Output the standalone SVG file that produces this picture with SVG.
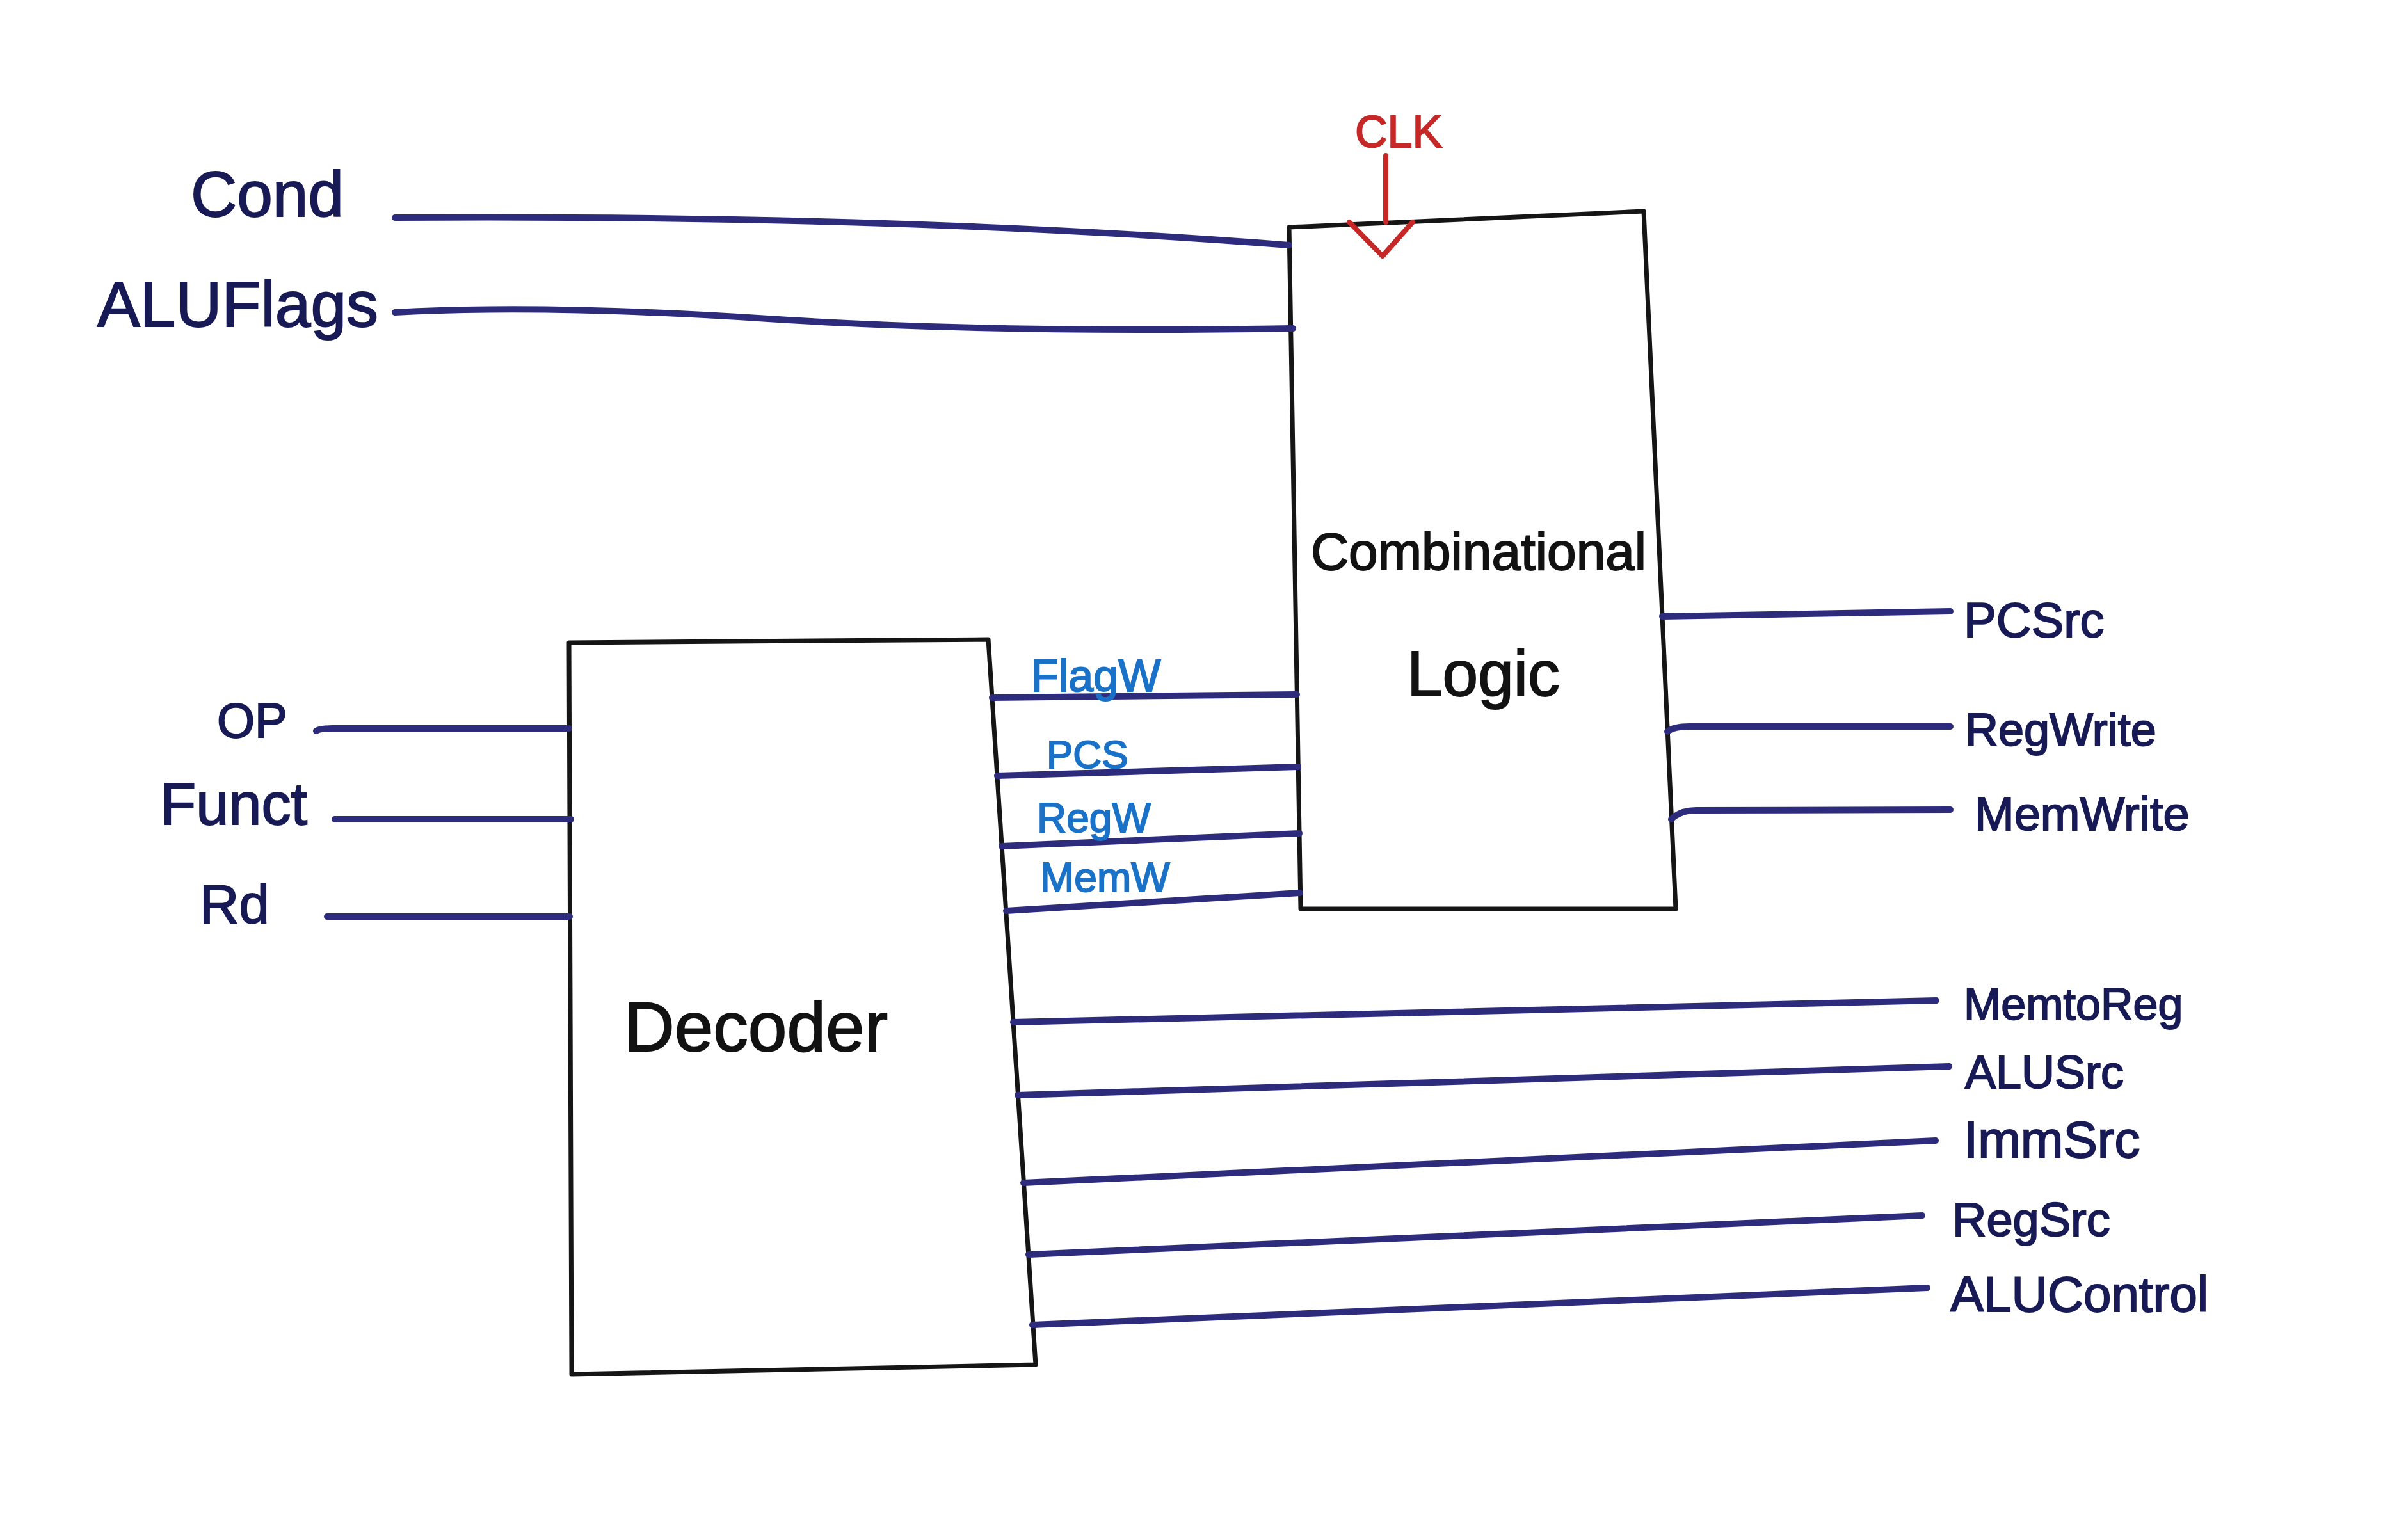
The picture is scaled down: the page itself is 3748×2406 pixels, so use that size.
<svg xmlns="http://www.w3.org/2000/svg" width="3748" height="2406" viewBox="0 0 3748 2406">
<style>
.box{fill:#fff;stroke:#151515;stroke-width:7;stroke-linejoin:round}
.wire{fill:none;stroke:#2d2c7c;stroke-width:10;stroke-linecap:round}
.lbl{font-family:"Liberation Sans",Arial,sans-serif;fill:#171a55;stroke:#171a55;stroke-width:2}
.blue{font-family:"Liberation Sans",Arial,sans-serif;fill:#1a72c8;stroke:#1a72c8;stroke-width:2}
.red{font-family:"Liberation Sans",Arial,sans-serif;fill:#c62828;stroke:#c62828;stroke-width:2}
.title{font-family:"Liberation Sans",Arial,sans-serif;fill:#121212;stroke:#121212;stroke-width:2}
</style>
<rect width="3748" height="2406" fill="#ffffff"/>
<g id="decoder">
<polygon class="box" points="889,1004 1544,999 1618,2132 893,2147"/>
<text class="title" x="975" y="1642" font-size="109">Decoder</text>
</g>
<g id="combinational-logic">
<polygon class="box" points="2014,355 2568,330 2618,1420 2032,1420"/>
<text class="title" x="2310" y="890" font-size="82" text-anchor="middle">Combinational</text>
<text class="title" x="2198" y="1087" font-size="100">Logic</text>
</g>
<g id="clk">
<text class="red" x="2117" y="230" font-size="70">CLK</text>
<line x1="2165" y1="243" x2="2165" y2="347" stroke="#c62828" stroke-width="8" stroke-linecap="round"/>
<polyline points="2108,347 2160,400 2207,347" fill="none" stroke="#c62828" stroke-width="8" stroke-linejoin="round" stroke-linecap="round"/>
</g>
<g id="connectors">
<path class="wire" d="M617,340 Q1400,335 2014,383"/>
<path class="wire" d="M617,488 Q850,475 1200,498 T2020,513"/>
<path class="wire" d="M494,1142 Q500,1138 520,1138 L889,1138"/>
<path class="wire" d="M523,1280 L892,1280"/>
<path class="wire" d="M511,1432 L890,1432"/>
<path class="wire" d="M1550,1090 L2026,1085"/>
<path class="wire" d="M1558,1212 L2028,1198"/>
<path class="wire" d="M1565,1322 L2030,1302"/>
<path class="wire" d="M1572,1423 L2031,1395"/>
<path class="wire" d="M2597,963 L3047,955"/>
<path class="wire" d="M2605,1143 Q2615,1135 2640,1135 L3047,1135"/>
<path class="wire" d="M2611,1280 Q2625,1266 2650,1266 L3047,1265"/>
<path class="wire" d="M1583,1597 L3025,1563"/>
<path class="wire" d="M1590,1711 L3045,1666"/>
<path class="wire" d="M1599,1848 L3024,1782"/>
<path class="wire" d="M1607,1960 L3003,1899"/>
<path class="wire" d="M1613,2070 L3011,2012"/>
</g>
<g id="input-labels">
<text class="lbl" x="298" y="338" font-size="100">Cond</text>
<text class="lbl" x="152" y="510" font-size="100">ALUFlags</text>
<text class="lbl" x="339" y="1152" font-size="76">OP</text>
<text class="lbl" x="250" y="1288" font-size="92">Funct</text>
<text class="lbl" x="312" y="1442" font-size="85">Rd</text>
</g>
<g id="internal-labels">
<text class="blue" x="1611" y="1080" font-size="70">FlagW</text>
<text class="blue" x="1635" y="1200" font-size="62">PCS</text>
<text class="blue" x="1620" y="1300" font-size="64">RegW</text>
<text class="blue" x="1625" y="1393" font-size="64">MemW</text>
</g>
<g id="output-labels">
<text class="lbl" x="3068" y="995" font-size="76">PCSrc</text>
<text class="lbl" x="3070" y="1165" font-size="72">RegWrite</text>
<text class="lbl" x="3085" y="1297" font-size="74">MemWrite</text>
<text class="lbl" x="3068" y="1593" font-size="70">MemtoReg</text>
<text class="lbl" x="3070" y="1700" font-size="72">ALUSrc</text>
<text class="lbl" x="3068" y="1808" font-size="80">ImmSrc</text>
<text class="lbl" x="3050" y="1931" font-size="74">RegSrc</text>
<text class="lbl" x="3047" y="2049" font-size="78">ALUControl</text>
</g>
</svg>
